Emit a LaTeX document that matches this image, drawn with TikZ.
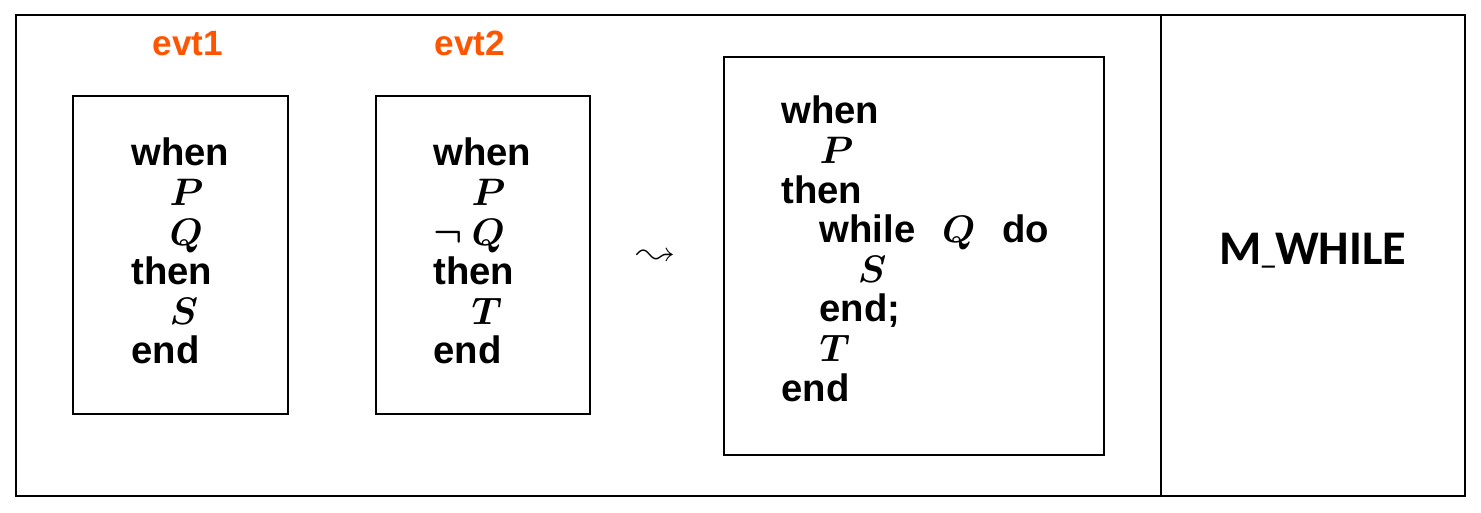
\RequirePackage{fix-cm}
\documentclass[tikz,border=0pt]{standalone}
\usepackage{latexsym}
\usepackage{fontspec}
\setmainfont{Liberation Sans}
\newfontfamily\rulefont{Carlito}
\usetikzlibrary{positioning}
\definecolor{evtorange}{RGB}{255,85,0}
\newcommand{\codefont}{\fontsize{21.8}{22.5}\selectfont\bfseries\boldmath}
\newcommand{\ind}{\hspace*{1em}}
\tikzset{
  frame/.style={draw=black, line width=0.8pt},
  codebox/.style={draw=black, line width=0.8pt},
  code/.style={anchor=base west, inner sep=0pt, font=\codefont},
  evtlabel/.style={anchor=base, inner sep=0pt, text=evtorange,
    font=\fontsize{20}{20}\selectfont\bfseries}
}

\begin{document}
\begin{tikzpicture}[x=0.02cm, y=-0.02cm]
    \useasboundingbox (0,0) rectangle (1481,513);
    % Outer frame and rule column
    \draw[frame] (16,15) rectangle (1465,496);
    \draw[frame] (1161,15) -- (1161,496);

    % Event boxes
    \draw[codebox] (73,96) rectangle (288,414);
    \draw[codebox] (376,96) rectangle (590,414);
    \draw[codebox] (724,57) rectangle (1104,455);

    % Labels
    \node[evtlabel] (evt1) at (188,56) {evt1};
    \node[evtlabel] (evt2) at (470,56) {evt2};

    % Code
    \node[code] (code1) at (131,166) {\begin{tabular}[t]{@{}l@{}}
      when\\ \ind$P$\\ \ind$Q$\\ then\\ \ind$S$\\ end
    \end{tabular}};
    \node[code] (code2) at (433,166) {\begin{tabular}[t]{@{}l@{}}
      when\\ \ind$P$\\ \makebox[1em][l]{$\neg$}$Q$\\ then\\ \ind$T$\\ end
    \end{tabular}};
    \node[code] (code3) at (781,124) {\begin{tabular}[t]{@{}l@{}}
      when\\ \ind$P$\\ then\\ \ind while\hspace{0.7em}$Q$\hspace{0.7em}do\\
      \ind\ind$S$\\ \ind end;\\ \ind$T$\\ end
    \end{tabular}};

    % Refinement symbol
    \node[inner sep=0pt, font=\fontsize{21.8}{22.5}\selectfont] (leads) at (656,257) {$\leadsto$};

    % Rule name
    \node[anchor=base, inner sep=0pt, font=\rulefont\fontsize{27.5}{27.5}\selectfont\bfseries]
      (rule) at (1313,265) {M{\fontsize{15}{15}\selectfont\_}WHILE};
\end{tikzpicture}
\end{document}
